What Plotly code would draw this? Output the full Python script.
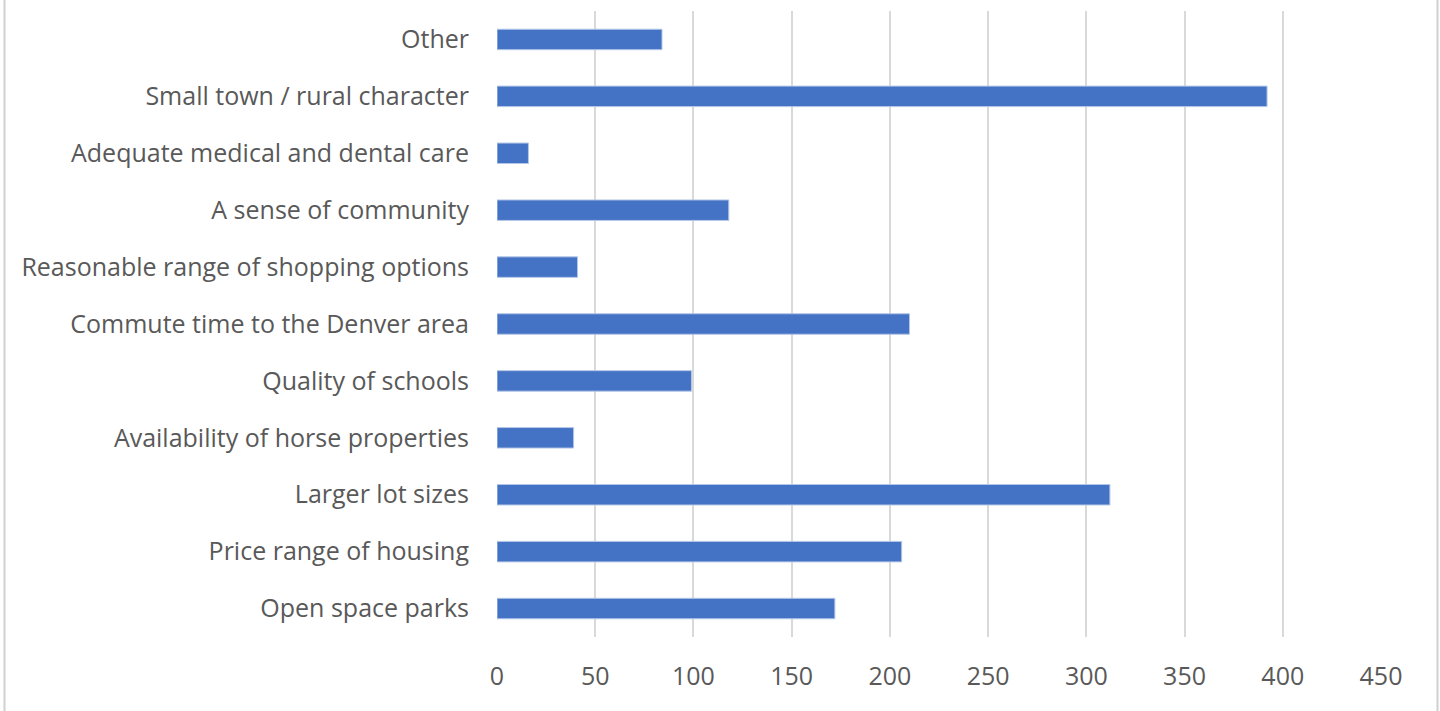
import plotly.graph_objects as go

categories = [
    "Open space parks",
    "Price range of housing",
    "Larger lot sizes",
    "Availability of horse properties",
    "Quality of schools",
    "Commute time to the Denver area",
    "Reasonable range of shopping options",
    "A sense of community",
    "Adequate medical and dental care",
    "Small town / rural character",
    "Other",
]
values = [172, 206, 312, 39, 99, 210, 41, 118, 16, 392, 84]
x_ticks = [0, 50, 100, 150, 200, 250, 300, 350, 400, 450]

W, H = 1440, 711
ml, mr, mt, mb = 497, W - 1381, 11, H - 637
pw = W - ml - mr
ph = H - mt - mb

fig = go.Figure(
    go.Bar(
        y=categories,
        x=values,
        orientation="h",
        width=0.36,
        marker=dict(color="#4472C4", line=dict(color="#B4C7E7", width=1)),
    )
)

fig.update_layout(
    width=W,
    height=H,
    margin=dict(l=ml, r=mr, t=mt, b=mb),
    paper_bgcolor="white",
    plot_bgcolor="white",
    showlegend=False,
    font=dict(family="Open Sans, Noto Sans, DejaVu Sans", size=25, color="#595959"),
)
fig.update_xaxes(
    range=[0, 450],
    tickvals=x_ticks,
    ticktext=[str(v) for v in x_ticks],
    showgrid=True,
    gridcolor="#D9D9D9",
    gridwidth=2,
    zeroline=False,
    showline=False,
    ticks="",
    ticklabelstandoff=22,
    tickfont=dict(size=25, color="#595959"),
)
fig.update_yaxes(
    categoryorder="array",
    categoryarray=categories,
    showgrid=False,
    zeroline=False,
    showline=False,
    ticks="",
    ticklabelstandoff=27,
    tickfont=dict(size=25, color="#595959"),
)

# light outer frame (left and right edges visible)
for px in (4.5, 1437.5):
    xp = (px - ml) / pw
    fig.add_shape(type="line", xref="paper", yref="paper",
                  x0=xp, x1=xp, y0=-mb / ph, y1=1 + mt / ph,
                  line=dict(color="#D0D0D0", width=2))

fig.write_html(
    "out.html",
    config={"displayModeBar": False},
    post_script="document.body.style.margin='0';document.body.style.overflow='hidden';",
)
